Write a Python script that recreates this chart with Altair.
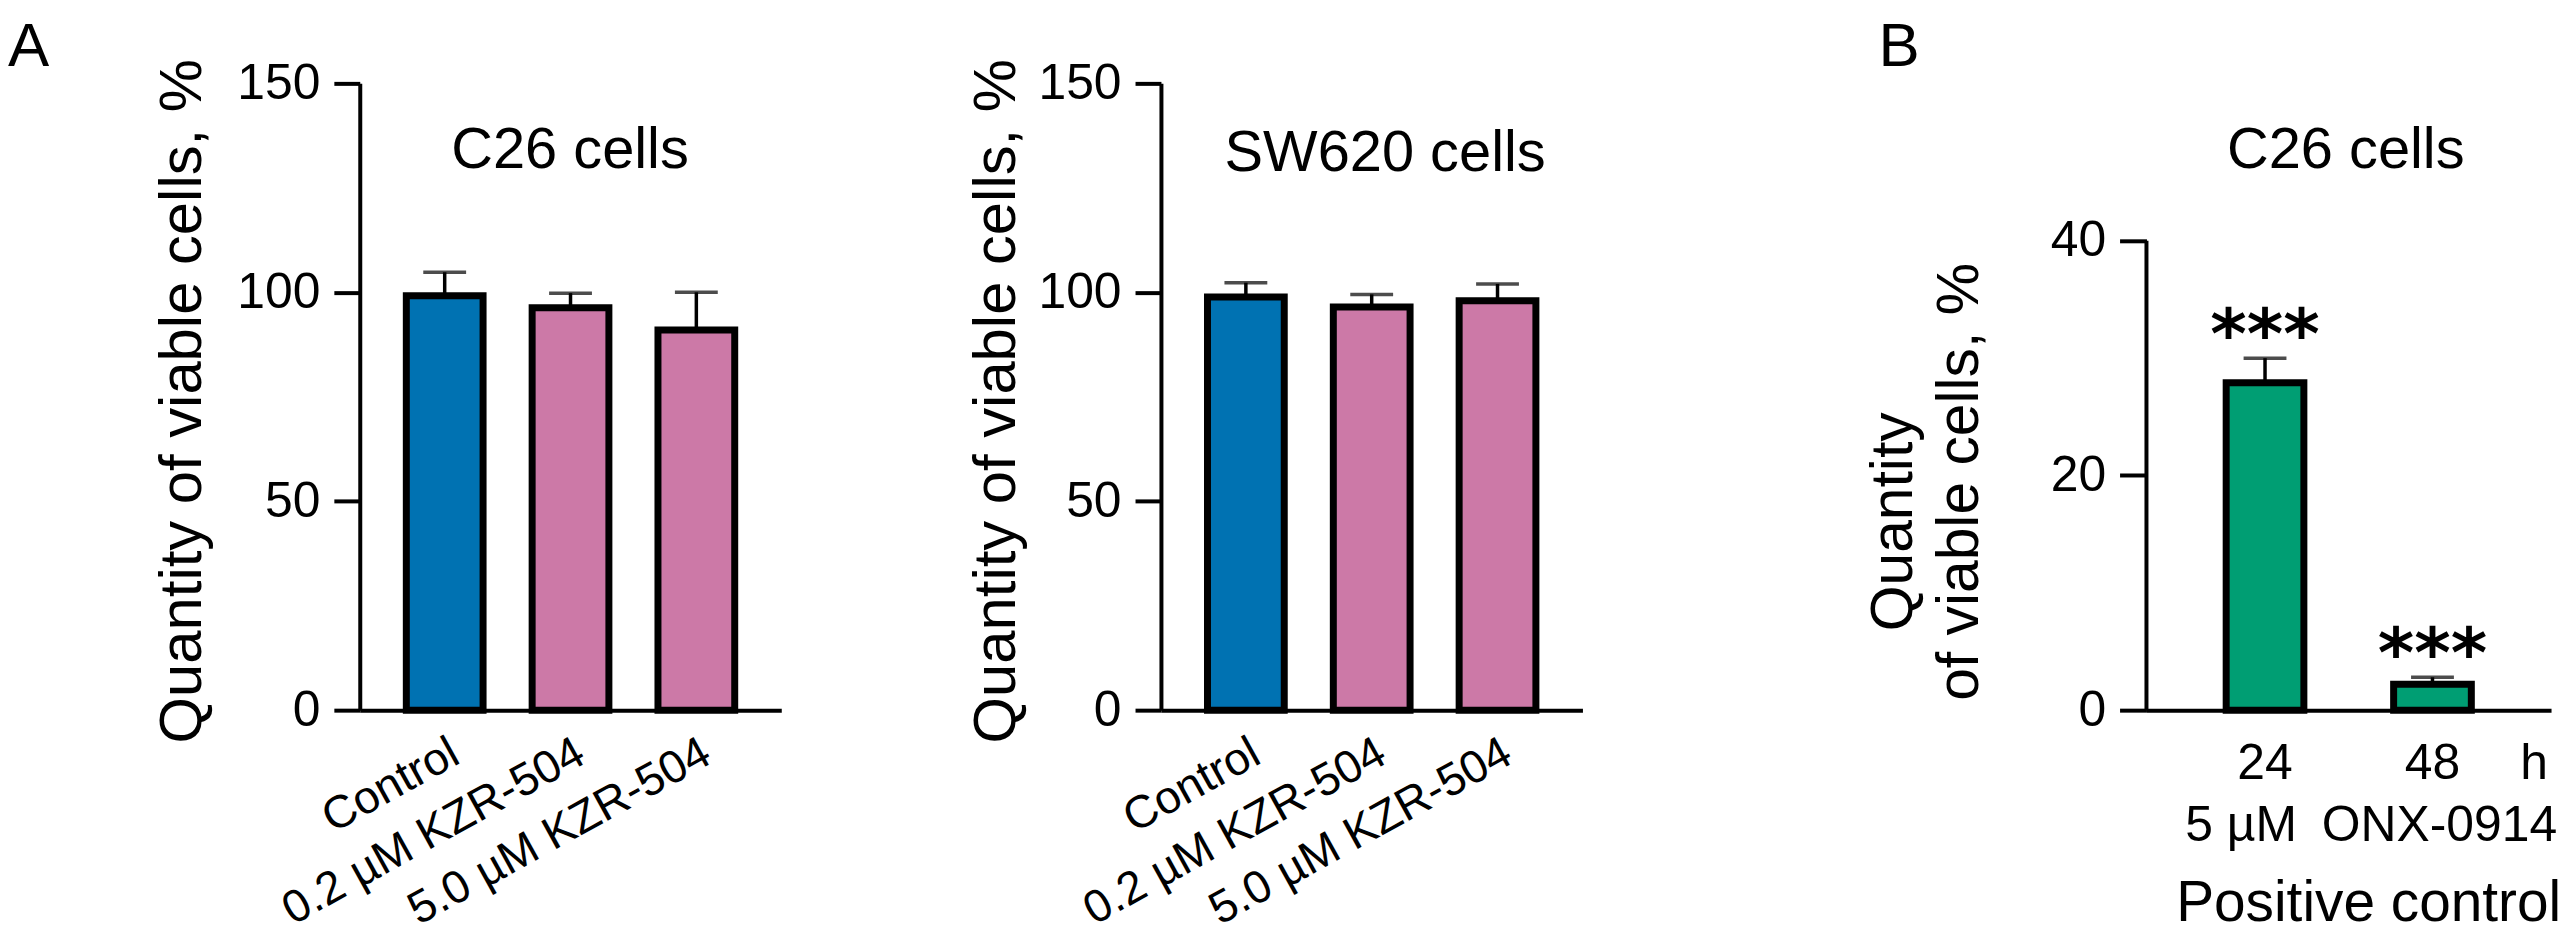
import altair as alt
import pandas as pd

FONT = "Liberation Sans"

# ---------------- data ----------------
groups_a = ["Control", "0.2 µM KZR-504", "5.0 µM KZR-504"]
colors_a = ["#0072B2", "#CC79A7", "#CC79A7"]
c26_mean = [99.2, 96.3, 91.0]
c26_sem = [5.6, 3.5, 9.0]
sw620_mean = [98.9, 96.5, 98.0]
sw620_sem = [3.4, 3.0, 4.0]
ticks_a = [0, 50, 100, 150]

times_b = ["24", "48"]
onx_mean = [27.9, 2.2]
onx_sem = [2.1, 0.6]
stars_b = ["***", "***"]
color_b = "#009E73"
ticks_b = [0, 20, 40]

H = 629          # plot height (0..150 of panels A)
HB = 471         # pixel height of the 0..40 range of panel B
YTITLE = "Quantity of viable cells, %"


def txt(s, x, y, size, align="center", baseline="alphabetic", weight="normal",
        angle=0, font=FONT):
    return alt.Chart(pd.DataFrame({"t": [s]})).mark_text(
        font=font, fontSize=size, align=align, baseline=baseline,
        fontWeight=weight, color="black", angle=angle
    ).encode(x=alt.value(x), y=alt.value(y), text="t:N")


def spacer(x, align):
    return txt(" ", x, -74, 20, align=align, baseline="top")


def y_axis(values, tick, title=None, title_x=0):
    kw = dict(
        values=values,
        labelFont=FONT, labelFontSize=50, labelColor="black", labelPadding=14,
        tickSize=tick, tickWidth=4, tickColor="black",
        domainWidth=4, domainColor="black", grid=False,
    )
    if title:
        kw.update(title=title, titleFont=FONT, titleFontSize=60, titleFontWeight="normal",
                  titleColor="black", titleX=title_x, titleY=H / 2 + 4, titleAngle=270,
                  titleAlign="center", titleBaseline="middle")
    else:
        kw.update(title=None, domain=False)
    return alt.Axis(**kw)


def panel_a(means, sems, title, title_x, title_y, ytitle_x, extra):
    df = pd.DataFrame({
        "group": groups_a, "mean": means,
        "upper": [m + s for m, s in zip(means, sems)], "color": colors_a,
    })
    x = alt.X("group:N", sort=groups_a,
              scale=alt.Scale(paddingInner=0.39, paddingOuter=0.37),
              axis=alt.Axis(title=None, labelAngle=-29, labelFont=FONT, labelFontSize=46,
                            labelColor="black", labelPadding=20, labelAlign="right",
                            labelBaseline="top", labelLimit=0, ticks=False, tickSize=0,
                            domainWidth=4, domainColor="black", grid=False))
    y = alt.Y("mean:Q", scale=alt.Scale(domain=[0, 150], nice=False),
              axis=y_axis(ticks_a, 26, YTITLE, ytitle_x))
    base = alt.Chart(df)
    bars = base.mark_bar(stroke="black", strokeWidth=7).encode(
        x=x, y=y, fill=alt.Fill("color:N", scale=None))
    stem = base.mark_rule(color="black", strokeWidth=3.5).encode(
        x=alt.X("group:N", sort=groups_a), y="mean:Q", y2="upper:Q")
    cap = base.mark_tick(color="black", thickness=3.5, size=43).encode(
        x=alt.X("group:N", sort=groups_a), y="upper:Q")
    layers = [bars, stem, cap, txt(title, title_x, title_y, 58)] + extra
    return alt.layer(*layers).properties(width=423, height=H)


def panel_b():
    df = pd.DataFrame({
        "time": times_b, "mean": onx_mean,
        "upper": [m + s for m, s in zip(onx_mean, onx_sem)], "stars": stars_b,
    })
    ymax = 40 * H / HB
    x = alt.X("time:N", sort=times_b,
              scale=alt.Scale(paddingInner=0.536, paddingOuter=0.476),
              axis=alt.Axis(title=None, labelAngle=0, labelFont=FONT, labelFontSize=50,
                            labelColor="black", labelPadding=29, ticks=False, tickSize=0,
                            domainWidth=4, domainColor="black", grid=False))
    y = alt.Y("mean:Q", scale=alt.Scale(domain=[0, ymax], nice=False),
              axis=y_axis(ticks_b, 27))
    base = alt.Chart(df)
    bars = base.mark_bar(stroke="black", strokeWidth=7, fill=color_b).encode(x=x, y=y)
    stem = base.mark_rule(color="black", strokeWidth=3.5).encode(
        x=alt.X("time:N", sort=times_b), y="mean:Q", y2="upper:Q")
    cap = base.mark_tick(color="black", thickness=3.5, size=43).encode(
        x=alt.X("time:N", sort=times_b), y="upper:Q")
    stars = base.mark_text(font="DejaVu Sans", fontSize=70, fontWeight="bold",
                           baseline="alphabetic", dy=0, color="black").encode(
        x=alt.X("time:N", sort=times_b), y="upper:Q", text="stars:N")
    yline = alt.Chart(pd.DataFrame({"k": [0]})).mark_rule(
        color="black", strokeWidth=4).encode(
        x=alt.value(0), y=alt.datum(0), y2=alt.datum(40))
    layers = [
        bars, stem, cap, stars, yline,
        txt("C26 cells", 200, 85, 58),
        txt("Quantity", -253, 440, 59, baseline="middle", angle=270),
        txt("of viable cells, %", -187, 400, 59, baseline="middle", angle=270),
        txt("h", 389, 698, 50),
        txt("5 µM", 95, 760, 50),
        txt("ONX-0914", 294, 760, 50),
        txt("Positive control", 223, 841, 57),
        txt("B", -269, -17, 62, align="left"),
        spacer(-300, "left"),
    ]
    return alt.layer(*layers).properties(width=406, height=H)


a1 = panel_a(c26_mean, c26_sem, "C26 cells", 211, 85, -178,
             [txt("A", -353, -17, 62, align="left"), spacer(574, "right")])
a2 = panel_a(sw620_mean, sw620_sem, "SW620 cells", 225, 88, -165,
             [spacer(-230, "left"), spacer(689, "right")])
b = panel_b()

chart = alt.hconcat(a1, a2, b, spacing=0).properties(
    padding={"left": 0, "top": 0, "right": 0, "bottom": 0}
).configure(font=FONT).configure_view(stroke=None)

chart.save("out.html", embed_options={"renderer": "svg", "actions": False})
